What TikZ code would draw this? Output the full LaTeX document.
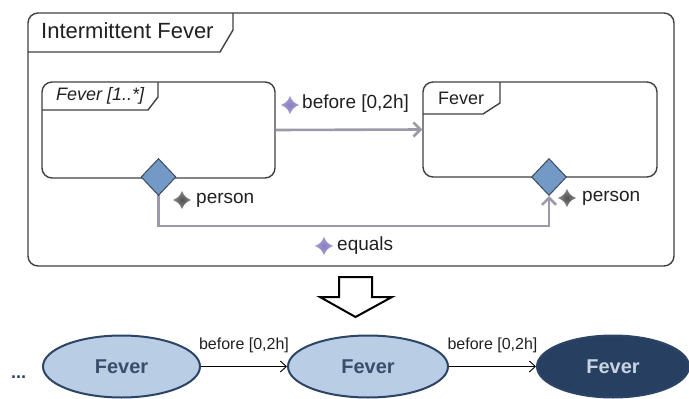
\documentclass[tikz,border=0pt]{standalone}
\usepackage{fontspec}
\setmainfont{Liberation Sans}
\usetikzlibrary{shapes.geometric,arrows.meta}
\definecolor{frame}{HTML}{404040}
\definecolor{link}{HTML}{9D99AB}
\definecolor{lavin}{HTML}{8A7FC0}
\definecolor{lavout}{HTML}{A79DD4}
\definecolor{grayin}{HTML}{505050}
\definecolor{grayout}{HTML}{8C8C8C}
\definecolor{gem}{HTML}{7399C6}
\definecolor{gemline}{HTML}{3D4B5C}
\definecolor{evfill}{HTML}{B9CDE5}
\definecolor{evline}{HTML}{2C4466}
\definecolor{evtext}{HTML}{3A4E6C}
\definecolor{evdark}{HTML}{273F60}
\definecolor{evdarktext}{HTML}{C9D4E3}
\definecolor{ink}{HTML}{202020}
\begin{document}
\begin{tikzpicture}[x=1pt,y=-1pt,
  box/.style={draw=frame, line width=1.4pt, rounded corners=10pt, inner sep=0pt},
  tabline/.style={draw=frame, line width=1.4pt},
  gemstone/.style={shape=diamond, draw=gemline, fill=gem, line width=1pt,
    minimum width=35pt, minimum height=37pt, inner sep=0pt},
  conn/.style={draw=link, line width=2.6pt,
    -{Straight Barb[length=7pt,width=14pt]}},
  lbl/.style={text=ink, inner sep=0pt, font=\fontsize{19}{22}\selectfont},
  tabtext/.style={text=ink, inner sep=0pt, font=\fontsize{18}{21}\selectfont},
  event/.style={shape=ellipse, draw=evline, fill=evfill, line width=2pt,
    minimum width=157pt, minimum height=62pt, inner sep=0pt, text=evtext,
    font=\fontsize{20}{24}\selectfont\bfseries},
  darkevent/.style={event, fill=evdark, text=evdarktext},
  seq/.style={draw=black, line width=0.9pt,
    -{Straight Barb[length=6pt,width=11pt]}},
  seqlbl/.style={midway, above=13pt, inner sep=0pt, text=ink,
    font=\fontsize{16}{19}\selectfont},
  pics/spark/.style 2 args={code={
    \shade[inner color=#1, outer color=#2]
      (0,-9) .. controls (3,-3) .. (9,0) .. controls (3,3) .. (0,9)
      .. controls (-3,3) .. (-9,0) .. controls (-3,-3) .. cycle;}}
]
\useasboundingbox (0,0) rectangle (689,399);

% outer frame with its title tab
\node[box, minimum width=646pt, minimum height=253pt] (outer) at (351,139.5) {};
\path[tabline] (28,52) -- (220,52) -- (233,30) -- (233,13);
\node[anchor=west, inner sep=0pt, text=ink, font=\fontsize{22}{26}\selectfont]
  (title) at (41,31) {Intermittent Fever};

% the two event boxes
\node[box, minimum width=233pt, minimum height=96pt] (A) at (158.5,130) {};
\path[tabline] (42,110) -- (148,110) -- (158,97) -- (158,82);
\node[tabtext, anchor=west, font=\fontsize{18}{21}\selectfont\itshape]
  (Atab) at (56,96) {Fever [1..*]};

\node[box, minimum width=234pt, minimum height=95pt] (B) at (540,129.5) {};
\path[tabline] (423,114) -- (483,114) -- (500,103) -- (500,82);
\node[tabtext, anchor=west] (Btab) at (438,98.5) {Fever};

% "before" relation
\draw[conn] (A.east) -- (B.west);
\pic at (290,105) {spark={lavin}{lavout}};
\node[lbl, anchor=west] (beforelbl) at (302,104) {before [0,2h]};

% person attributes and the "equals" constraint
\coordinate (eqturn) at (158.5,226);
\draw[conn] (158.5,195) -- (eqturn) -| (549,196);
\node[gemstone] (d1) at (158.5,177) {};
\node[gemstone] (d2) at (549,177) {};

\pic at (182,200) {spark={grayin}{grayout}};
\node[lbl, anchor=west] (p1) at (196,200) {person};
\pic at (567,198) {spark={grayin}{grayout}};
\node[lbl, anchor=west] (p2) at (582,198) {person};

\pic at (324,246) {spark={lavin}{lavout}};
\node[lbl, anchor=west] (eqlbl) at (337,246) {equals};

% hollow down arrow
\draw[black, line width=2pt, fill=white, line join=miter]
  (339,277) -- (372,277) -- (372,297) -- (392,297) -- (355.5,317)
  -- (320,297) -- (339,297) -- cycle;

% resulting event sequence
\node[anchor=base west, inner sep=0pt, text=evline,
  font=\fontsize{18}{20}\selectfont\bfseries] (dots) at (11,378) {...};
\node[event] (e1) at (121.5,366.5) {Fever};
\node[event, minimum width=160pt] (e2) at (368,366.5) {Fever};
\node[darkevent, minimum width=152pt] (e3) at (613,366.5) {Fever};

\draw[seq] (e1) -- node[seqlbl] {before [0,2h]} (e2);
\draw[seq] (e2) -- node[seqlbl] {before [0,2h]} (e3);
\end{tikzpicture}
\end{document}
